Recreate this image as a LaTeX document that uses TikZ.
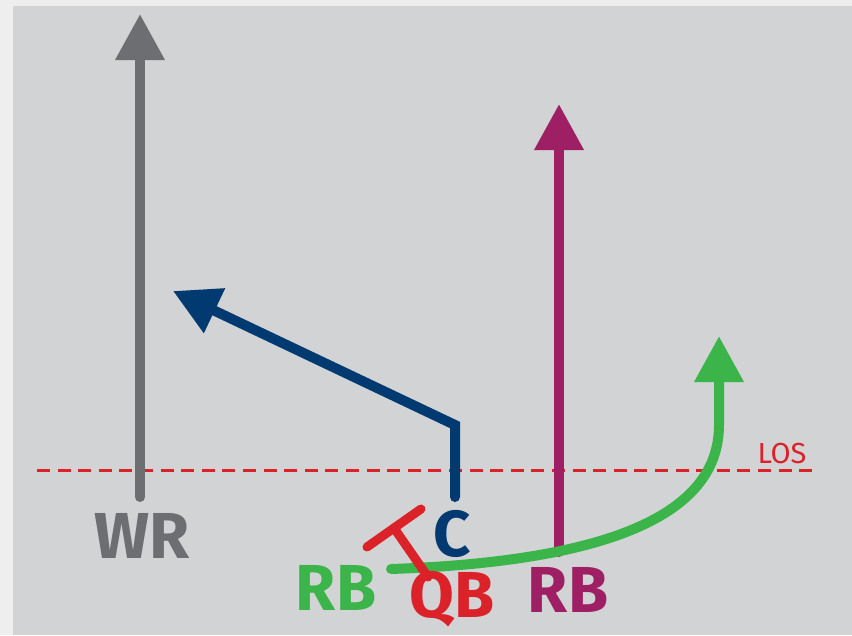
\documentclass[tikz,border=0pt]{standalone}
\usepackage{fontspec}
\setmainfont{Fira Sans}
\usetikzlibrary{arrows.meta}
\definecolor{outerbg}{HTML}{EEEEEE}
\definecolor{fieldbg}{HTML}{D1D3D4}
\definecolor{wrgray}{HTML}{6D6E71}
\definecolor{rbmag}{HTML}{9E1F63}
\definecolor{cnavy}{HTML}{003A70}
\definecolor{rbgreen}{HTML}{3BB54A}
\definecolor{qbred}{HTML}{DC2229}
\tikzset{
  route/.style={line width=10pt, line cap=round, line join=miter,
    -{Triangle[length=46pt,width=47pt]}},
  lbl/.style={font=\bfseries\fontsize{65}{65}\selectfont, inner sep=0pt, anchor=base},
  losline/.style={qbred, line width=3pt, dash pattern=on 13pt off 7.6pt},
}
\begin{document}
\begin{tikzpicture}[x=1pt,y=-1pt]
\useasboundingbox (0,0) rectangle (852,635);
\fill[outerbg] (0,0) rectangle (852,635);
\fill[fieldbg] (13,6) rectangle (852,635);
% line of scrimmage
\coordinate (losL) at (37,470);
\coordinate (losR) at (818,470);
\draw[losline] (losL) -- (losR);
\node[lbl, font=\fontsize{29}{29}\selectfont, text=qbred] (los) at (782,463) {LOS};
% WR
\coordinate (wrS) at (140,497);
\coordinate (wrT) at (140,14);
\draw[route, wrgray] (wrS) -- (wrT);
\node[lbl, text=wrgray] (wr) at (142.5,558) {WR};
% magenta RB
\coordinate (rbmS) at (559,552);
\coordinate (rbmT) at (559,104);
\draw[route, rbmag] (rbmS) -- (rbmT);
\node[lbl, text=rbmag] (rbm) at (568,612) {RB};
% C
\coordinate (cS) at (455,497);
\coordinate (cK) at (455,425);
\coordinate (cT) at (173,291);
\draw[route, cnavy] (cS) -- (cK) -- (cT);
\node[lbl, text=cnavy] (c) at (452,556) {C};
% green RB
\coordinate (rbgS) at (391,569);
\coordinate (rbgK) at (719,425);
\coordinate (rbgT) at (719,336);
\draw[route, rbgreen] (rbgS) .. controls (620,561) and (719,510) .. (rbgK) -- (rbgT);
\node[lbl, text=rbgreen] (rbg) at (336,610) {RB};
% QB block
\coordinate (qbA) at (367,547);
\coordinate (qbB) at (421,509);
\coordinate (qbM) at (394,528);
\coordinate (qbS) at (428,577);
\draw[qbred, line width=9pt, line cap=round] (qbA) -- (qbB);
\draw[qbred, line width=9pt, line cap=round] (qbM) -- (qbS);
\node[lbl, text=qbred] (qb) at (452,617) {QB};
\end{tikzpicture}
\end{document}
